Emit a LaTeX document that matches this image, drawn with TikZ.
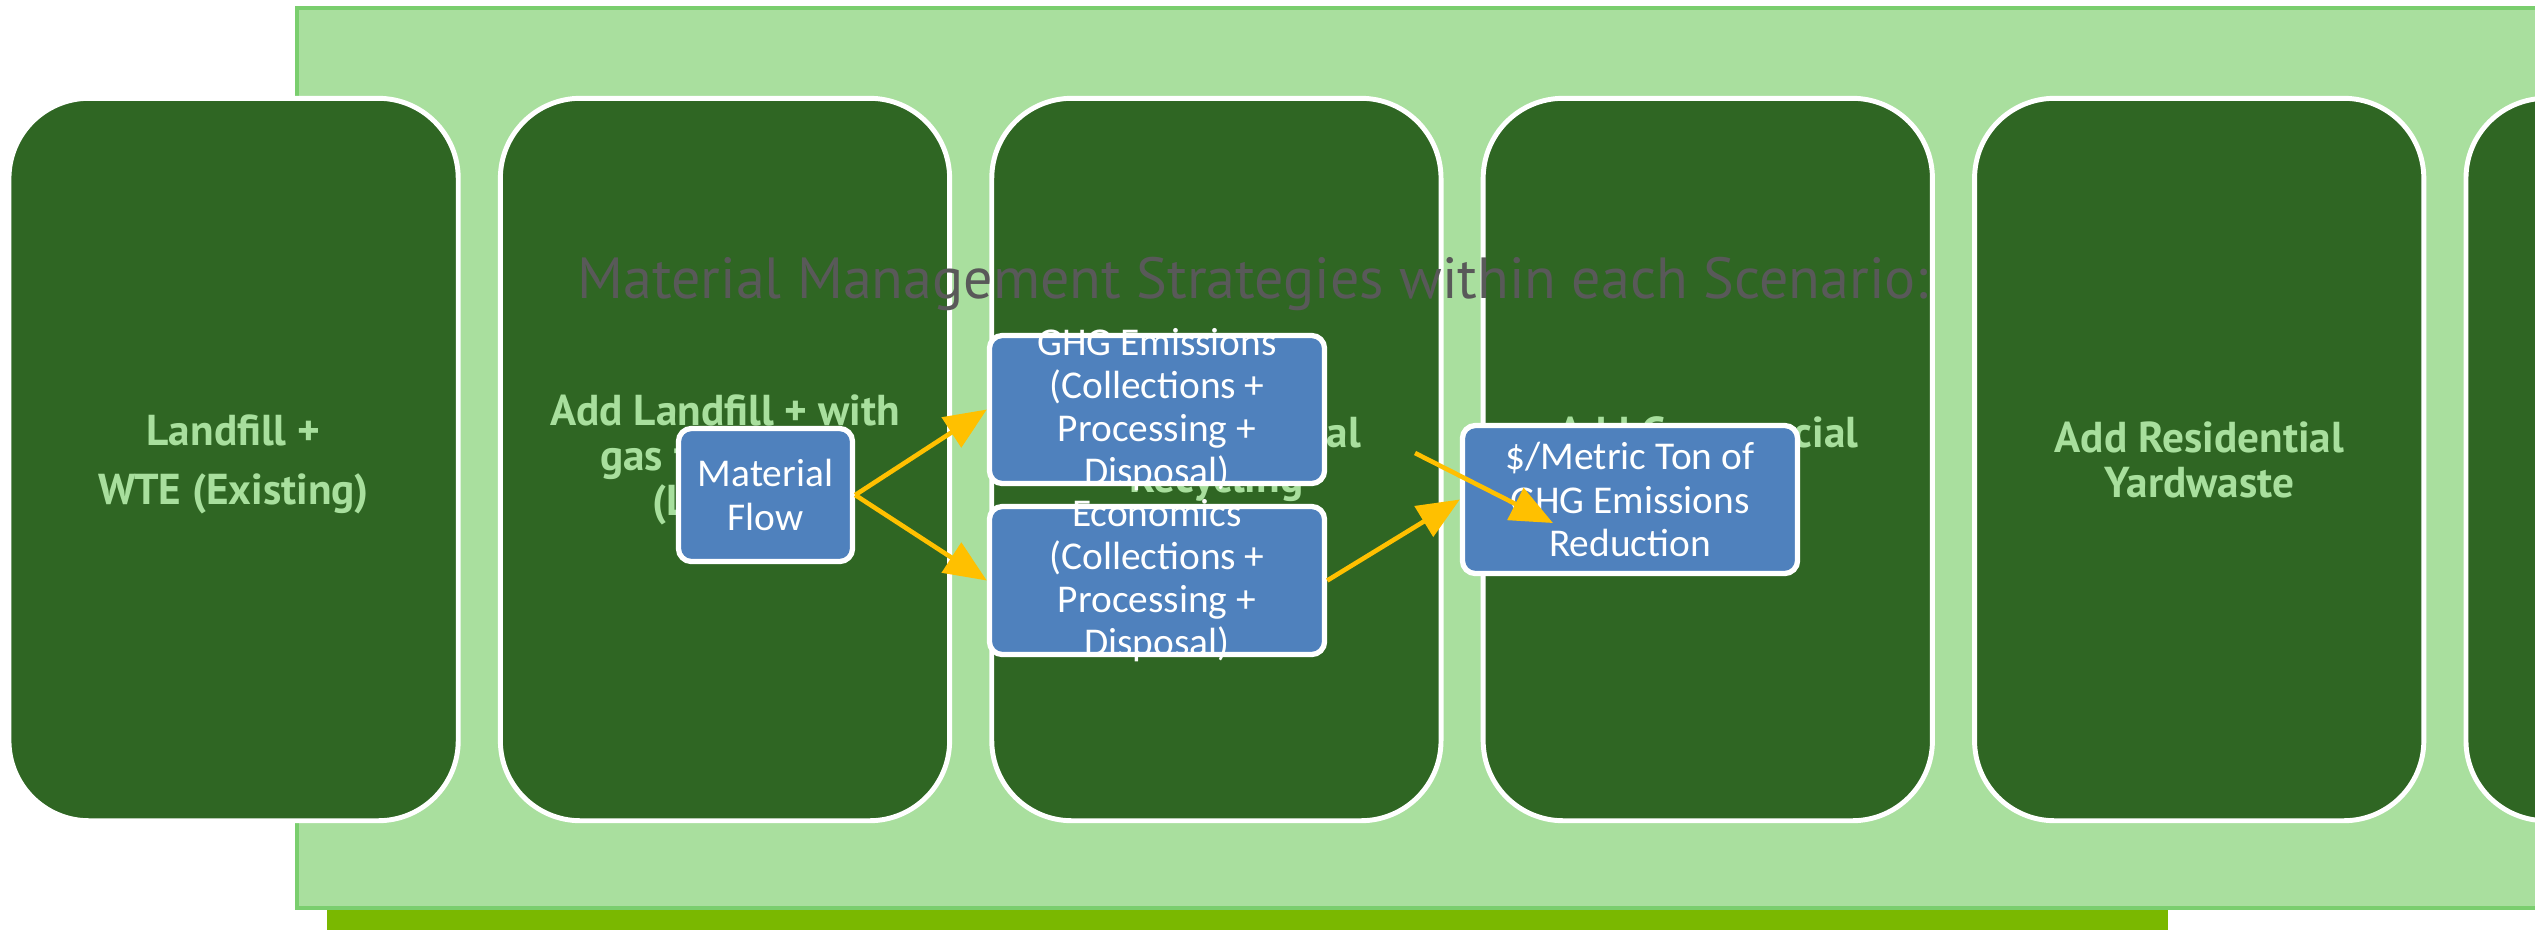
\documentclass[tikz,border=0pt]{standalone}
\usepackage{fontspec}
\setmainfont{Carlito}
\newfontfamily\headfont{PT Sans}
\usetikzlibrary{arrows.meta}

\definecolor{panelfill}{RGB}{169,223,158}
\definecolor{panelline}{RGB}{122,206,110}
\definecolor{limebar}{RGB}{122,184,0}
\definecolor{darkgreen}{RGB}{47,102,35}
\definecolor{labelgreen}{RGB}{168,223,157}
\definecolor{titlegray}{RGB}{89,89,89}
\definecolor{boxblue}{RGB}{79,129,189}
\definecolor{arrowgold}{RGB}{255,192,0}

\begin{document}
\begin{tikzpicture}[x=0.01cm,y=-0.01cm,
  scenario/.style={draw=white, line width=1.4pt, fill=darkgreen, rounded corners=0.8cm,
    minimum width=4.49cm, minimum height=7.22cm, inner sep=0pt,
    text=labelgreen, align=center, font=\headfont\bfseries\fontsize{12.3}{12.8}\selectfont},
  metricbox/.style={draw=white, line width=1.5pt, fill=boxblue, rounded corners=0.13cm,
    minimum width=3.35cm, minimum height=1.48cm, inner sep=0pt},
  metrictext/.style={text=white, align=center, inner sep=0pt, font=\fontsize{11.2}{12.3}\selectfont},
  heading/.style={text=titlegray, font=\headfont\fontsize{16.5}{19}\selectfont, inner sep=0pt},
  flow/.style={draw=arrowgold, line width=1.3pt, -{Triangle[length=12pt,width=10pt]}}]

\useasboundingbox (0,0) rectangle (2535,929);
\clip (0,0) rectangle (2535,929);

% backdrop: lime strip under the light green band
\fill[limebar] (327,905) rectangle (2168,935);
\draw[draw=panelline, fill=panelfill, line width=1.4pt] (297,8) rectangle (2620,908);

% scenario columns
\node[scenario, text depth=0pt, font=\headfont\bfseries\fontsize{12.3}{16.8}\selectfont] (s1) at (233.6,459.5) {Landfill +\\WTE (Existing)};
\node[scenario] (s2) at (725,459.5) {Add Landfill + with\\gas to energy\\(LFGTE)};
\node[scenario] (s3) at (1216.4,459.5) {Add Residential\\Recycling};
\node[scenario] (s4) at (1707.8,459.5) {Add Commercial\\Recycling};
\node[scenario] (s5) at (2199.2,459.5) {Add Residential\\Yardwaste};
\node[scenario] (s6) at (2690.6,459.5) {};

% heading
\node[heading] (title) at (1253,284) {Material Management Strategies within each Scenario:};

% evaluation boxes
\node[metricbox, metrictext, minimum width=1.74cm, minimum height=1.33cm] (mf) at (765.5,495) {Material\\Flow};
\node[metricbox] (ghg) at (1157,409.5) {};
\node[metrictext] (ghgtxt) at (ghg.center) {GHG Emissions\\(Collections +\\Processing +\\Disposal)};
\node[metricbox] (econ) at (1157,580.5) {};
\node[metrictext] (econtxt) at (econ.center) {Economics\\(Collections +\\Processing +\\Disposal)};
\node[metricbox, metrictext] (cost) at (1630,499.5) {\$/Metric Ton of\\GHG Emissions\\Reduction};

% connectors
\draw[flow] (mf.east) -- (ghg.west);
\draw[flow] (mf.east) -- (econ.west);
\draw[flow] (econ.east) -- (cost.west);
\coordinate (straytail) at (1415,453);
\coordinate (strayhead) at (1553,523);
\draw[flow] (straytail) -- (strayhead);
\end{tikzpicture}
\end{document}
